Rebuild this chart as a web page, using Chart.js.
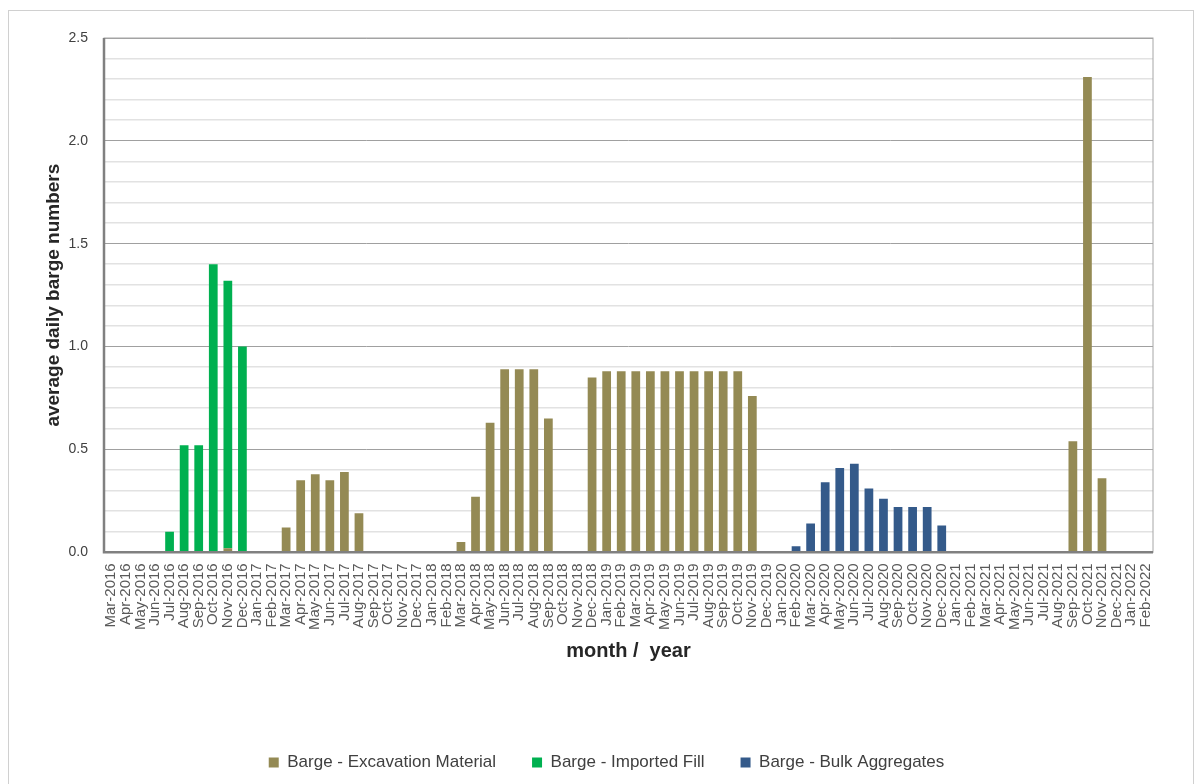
<!DOCTYPE html>
<html>
<head>
<meta charset="utf-8">
<script src="https://cdn.jsdelivr.net/npm/chart.js@4.4.1/dist/chart.umd.min.js"></script>
<style>
  html, body { margin: 0; padding: 0; background: #fff; }
  #frame { position: absolute; left: 8px; top: 10px; width: 1184px; height: 800px; border: 1px solid #d0d0d0; }
  #wrap { position: absolute; left: 0; top: 0; width: 1195px; height: 784px; }
</style>
</head>
<body>
<div id="frame"></div>
<div id="wrap"><canvas id="bargeChart"></canvas></div>
<script>
// month labels, Mar-2016 .. Feb-2022
const months = [
  'Mar-2016','Apr-2016','May-2016','Jun-2016','Jul-2016','Aug-2016','Sep-2016','Oct-2016','Nov-2016','Dec-2016',
  'Jan-2017','Feb-2017','Mar-2017','Apr-2017','May-2017','Jun-2017','Jul-2017','Aug-2017','Sep-2017','Oct-2017','Nov-2017','Dec-2017',
  'Jan-2018','Feb-2018','Mar-2018','Apr-2018','May-2018','Jun-2018','Jul-2018','Aug-2018','Sep-2018','Oct-2018','Nov-2018','Dec-2018',
  'Jan-2019','Feb-2019','Mar-2019','Apr-2019','May-2019','Jun-2019','Jul-2019','Aug-2019','Sep-2019','Oct-2019','Nov-2019','Dec-2019',
  'Jan-2020','Feb-2020','Mar-2020','Apr-2020','May-2020','Jun-2020','Jul-2020','Aug-2020','Sep-2020','Oct-2020','Nov-2020','Dec-2020',
  'Jan-2021','Feb-2021','Mar-2021','Apr-2021','May-2021','Jun-2021','Jul-2021','Aug-2021','Sep-2021','Oct-2021','Nov-2021','Dec-2021',
  'Jan-2022','Feb-2022'
];

const excavation = [
  0, 0, 0, 0, 0, 0, 0, 0, 0.02, 0,
  0, 0, 0.12, 0.35, 0.38, 0.35, 0.39, 0.19, 0, 0, 0, 0,
  0, 0, 0.05, 0.27, 0.63, 0.89, 0.89, 0.89, 0.65, 0, 0, 0.85,
  0.88, 0.88, 0.88, 0.88, 0.88, 0.88, 0.88, 0.88, 0.88, 0.88, 0.76, 0,
  0, 0, 0, 0, 0, 0, 0, 0, 0, 0, 0, 0,
  0, 0, 0, 0, 0, 0, 0, 0, 0.54, 2.31, 0.36, 0,
  0, 0
];

const importedFill = [
  0, 0, 0, 0, 0.10, 0.52, 0.52, 1.40, 1.30, 1.00,
  0, 0, 0, 0, 0, 0, 0, 0, 0, 0, 0, 0,
  0, 0, 0, 0, 0, 0, 0, 0, 0, 0, 0, 0,
  0, 0, 0, 0, 0, 0, 0, 0, 0, 0, 0, 0,
  0, 0, 0, 0, 0, 0, 0, 0, 0, 0, 0, 0,
  0, 0, 0, 0, 0, 0, 0, 0, 0, 0, 0, 0,
  0, 0
];

const bulkAggregates = [
  0, 0, 0, 0, 0, 0, 0, 0, 0, 0,
  0, 0, 0, 0, 0, 0, 0, 0, 0, 0, 0, 0,
  0, 0, 0, 0, 0, 0, 0, 0, 0, 0, 0, 0,
  0, 0, 0, 0, 0, 0, 0, 0, 0, 0, 0, 0,
  0, 0.03, 0.14, 0.34, 0.41, 0.43, 0.31, 0.26, 0.22, 0.22, 0.22, 0.13,
  0, 0, 0, 0, 0, 0, 0, 0, 0, 0, 0, 0,
  0, 0
];

// frame round the plot area, darker on the left and bottom
const plotFrame = {
  id: 'plotFrame',
  afterLayout(chart) {
    // legend sits a little right of the canvas centre in the original
    const lg = chart.legend;
    lg.left += 60;
    lg.width = lg.right - lg.left;
  },
  afterDatasetsDraw(chart) {
    const { ctx, chartArea: a } = chart;
    ctx.save();
    ctx.strokeStyle = '#a6a6a6';
    ctx.lineWidth = 1;
    ctx.strokeRect(a.left, a.top, a.right - a.left, a.bottom - a.top);
    ctx.strokeStyle = '#808080';
    ctx.lineWidth = 2.5;
    ctx.beginPath();
    ctx.moveTo(a.left, a.top);
    ctx.lineTo(a.left, a.bottom);
    ctx.lineTo(a.right, a.bottom);
    ctx.stroke();
    ctx.restore();
  }
};

const bar = { barPercentage: 0.6, categoryPercentage: 1.0, borderWidth: 0 };

new Chart(document.getElementById('bargeChart'), {
  type: 'bar',
  data: {
    labels: months,
    datasets: [
      { label: 'Barge - Excavation Material', data: excavation, backgroundColor: '#948a54', ...bar },
      { label: 'Barge - Imported Fill', data: importedFill, backgroundColor: '#00b050', ...bar },
      { label: 'Barge - Bulk Aggregates', data: bulkAggregates, backgroundColor: '#345a8a', ...bar }
    ]
  },
  options: {
    responsive: true,
    maintainAspectRatio: false,
    animation: false,
    layout: { padding: { top: 38, right: 42, left: 0, bottom: 3 } },
    scales: {
      x: {
        stacked: true,
        grid: { display: false },
        border: { display: false },
        ticks: {
          autoSkip: false,
          maxRotation: 90,
          minRotation: 90,
          padding: 3,
          color: '#595959',
          font: { family: 'Liberation Sans', size: 15 }
        },
        title: {
          display: true,
          text: 'month /  year',
          color: '#262626',
          font: { family: 'Liberation Sans', size: 20, weight: 'bold' },
          padding: { top: 6, bottom: 55 }
        }
      },
      y: {
        stacked: true,
        min: 0,
        max: 2.5,
        afterFit(scale) { scale.width = 104; },
        grid: {
          drawTicks: false,
          color: ctx => (Math.round(ctx.tick.value * 10) % 5 === 0 ? '#a0a0a0' : '#e2e2e2'),
          lineWidth: ctx => (Math.round(ctx.tick.value * 10) % 5 === 0 ? 1 : 1.6)
        },
        border: { display: false },
        ticks: {
          stepSize: 0.1,
          padding: 16,
          color: '#404040',
          font: { family: 'Liberation Sans', size: 14 },
          callback: v => (Math.round(v * 10) % 5 === 0 ? v.toFixed(1) : '')
        },
        title: {
          display: true,
          text: 'average daily barge numbers',
          color: '#262626',
          font: { family: 'Liberation Sans', size: 19, weight: 'bold' },
          padding: { top: 42, bottom: 0 }
        }
      }
    },
    plugins: {
      legend: {
        position: 'bottom',
        labels: {
          boxWidth: 10,
          boxHeight: 10,
          padding: 36,
          color: '#404040',
          font: { family: 'Liberation Sans', size: 17 }
        }
      },
      tooltip: { enabled: false }
    }
  },
  plugins: [plotFrame]
});
</script>
</body>
</html>
